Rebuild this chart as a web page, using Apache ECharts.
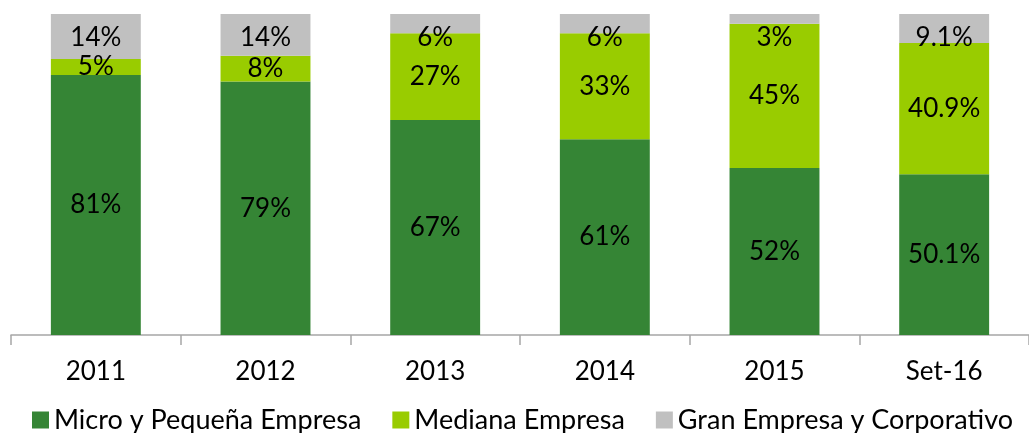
<!DOCTYPE html>
<html>
<head>
<meta charset="utf-8">
<script src="https://cdn.jsdelivr.net/npm/echarts@6/dist/echarts.min.js"></script>
<style>
html, body { margin: 0; padding: 0; background: #fff; }
#chart { width: 1029px; height: 433px; }
</style>
</head>
<body>
<div id="chart"></div>
<script>
var categories = ['2011', '2012', '2013', '2014', '2015', 'Set-16'];
var microPeq = [81, 79, 67, 61, 52, 50.1];
var mediana = [5, 8, 27, 33, 45, 40.9];
var granEmp = [14, 14, 6, 6, 3, 9.1];
var seriesNames = ['Micro y Pequeña Empresa', 'Mediana Empresa', 'Gran Empresa y Corporativo'];
var colors = ['#358535', '#99cc00', '#c0c0c0'];

var fontFam = 'Lato, "Open Sans", sans-serif';

function makeSeries(name, values, color, labelPos) {
    return {
        name: name,
        type: 'bar',
        stack: 'total',
        barWidth: '53%',
        data: values,
        itemStyle: { color: color },
        label: {
            show: true,
            position: labelPos,
            distance: 11,
            color: '#000',
            fontFamily: fontFam,
            fontSize: 26,
            formatter: '{c}%'
        }
    };
}

var option = {
    animation: false,
    color: colors,
    grid: { left: 11, top: 14, width: 1022, height: 321, containLabel: false },
    legend: {
        left: 32,
        top: 405,
        padding: 0,
        itemWidth: 17,
        itemHeight: 17,
        itemGap: 31,
        icon: 'rect',
        textStyle: { fontFamily: fontFam, fontSize: 27, lineHeight: 30, color: '#000' },
        data: seriesNames
    },
    xAxis: {
        type: 'category',
        data: categories,
        axisLine: { lineStyle: { color: '#a6a6a6', width: 1.5 } },
        axisTick: { show: true, length: 10, lineStyle: { color: '#a6a6a6', width: 1.5 } },
        axisLabel: { color: '#000', fontFamily: fontFam, fontSize: 26, margin: 24 }
    },
    yAxis: {
        type: 'value',
        min: 0,
        max: 100,
        show: false,
        splitLine: { show: false }
    },
    series: [
        makeSeries(seriesNames[0], microPeq, colors[0], 'inside'),
        makeSeries(seriesNames[1], mediana, colors[1], 'inside'),
        makeSeries(seriesNames[2], granEmp, colors[2], 'insideTop')
    ]
};

var chart = echarts.init(document.getElementById('chart'));
chart.setOption(option);
</script>
</body>
</html>
